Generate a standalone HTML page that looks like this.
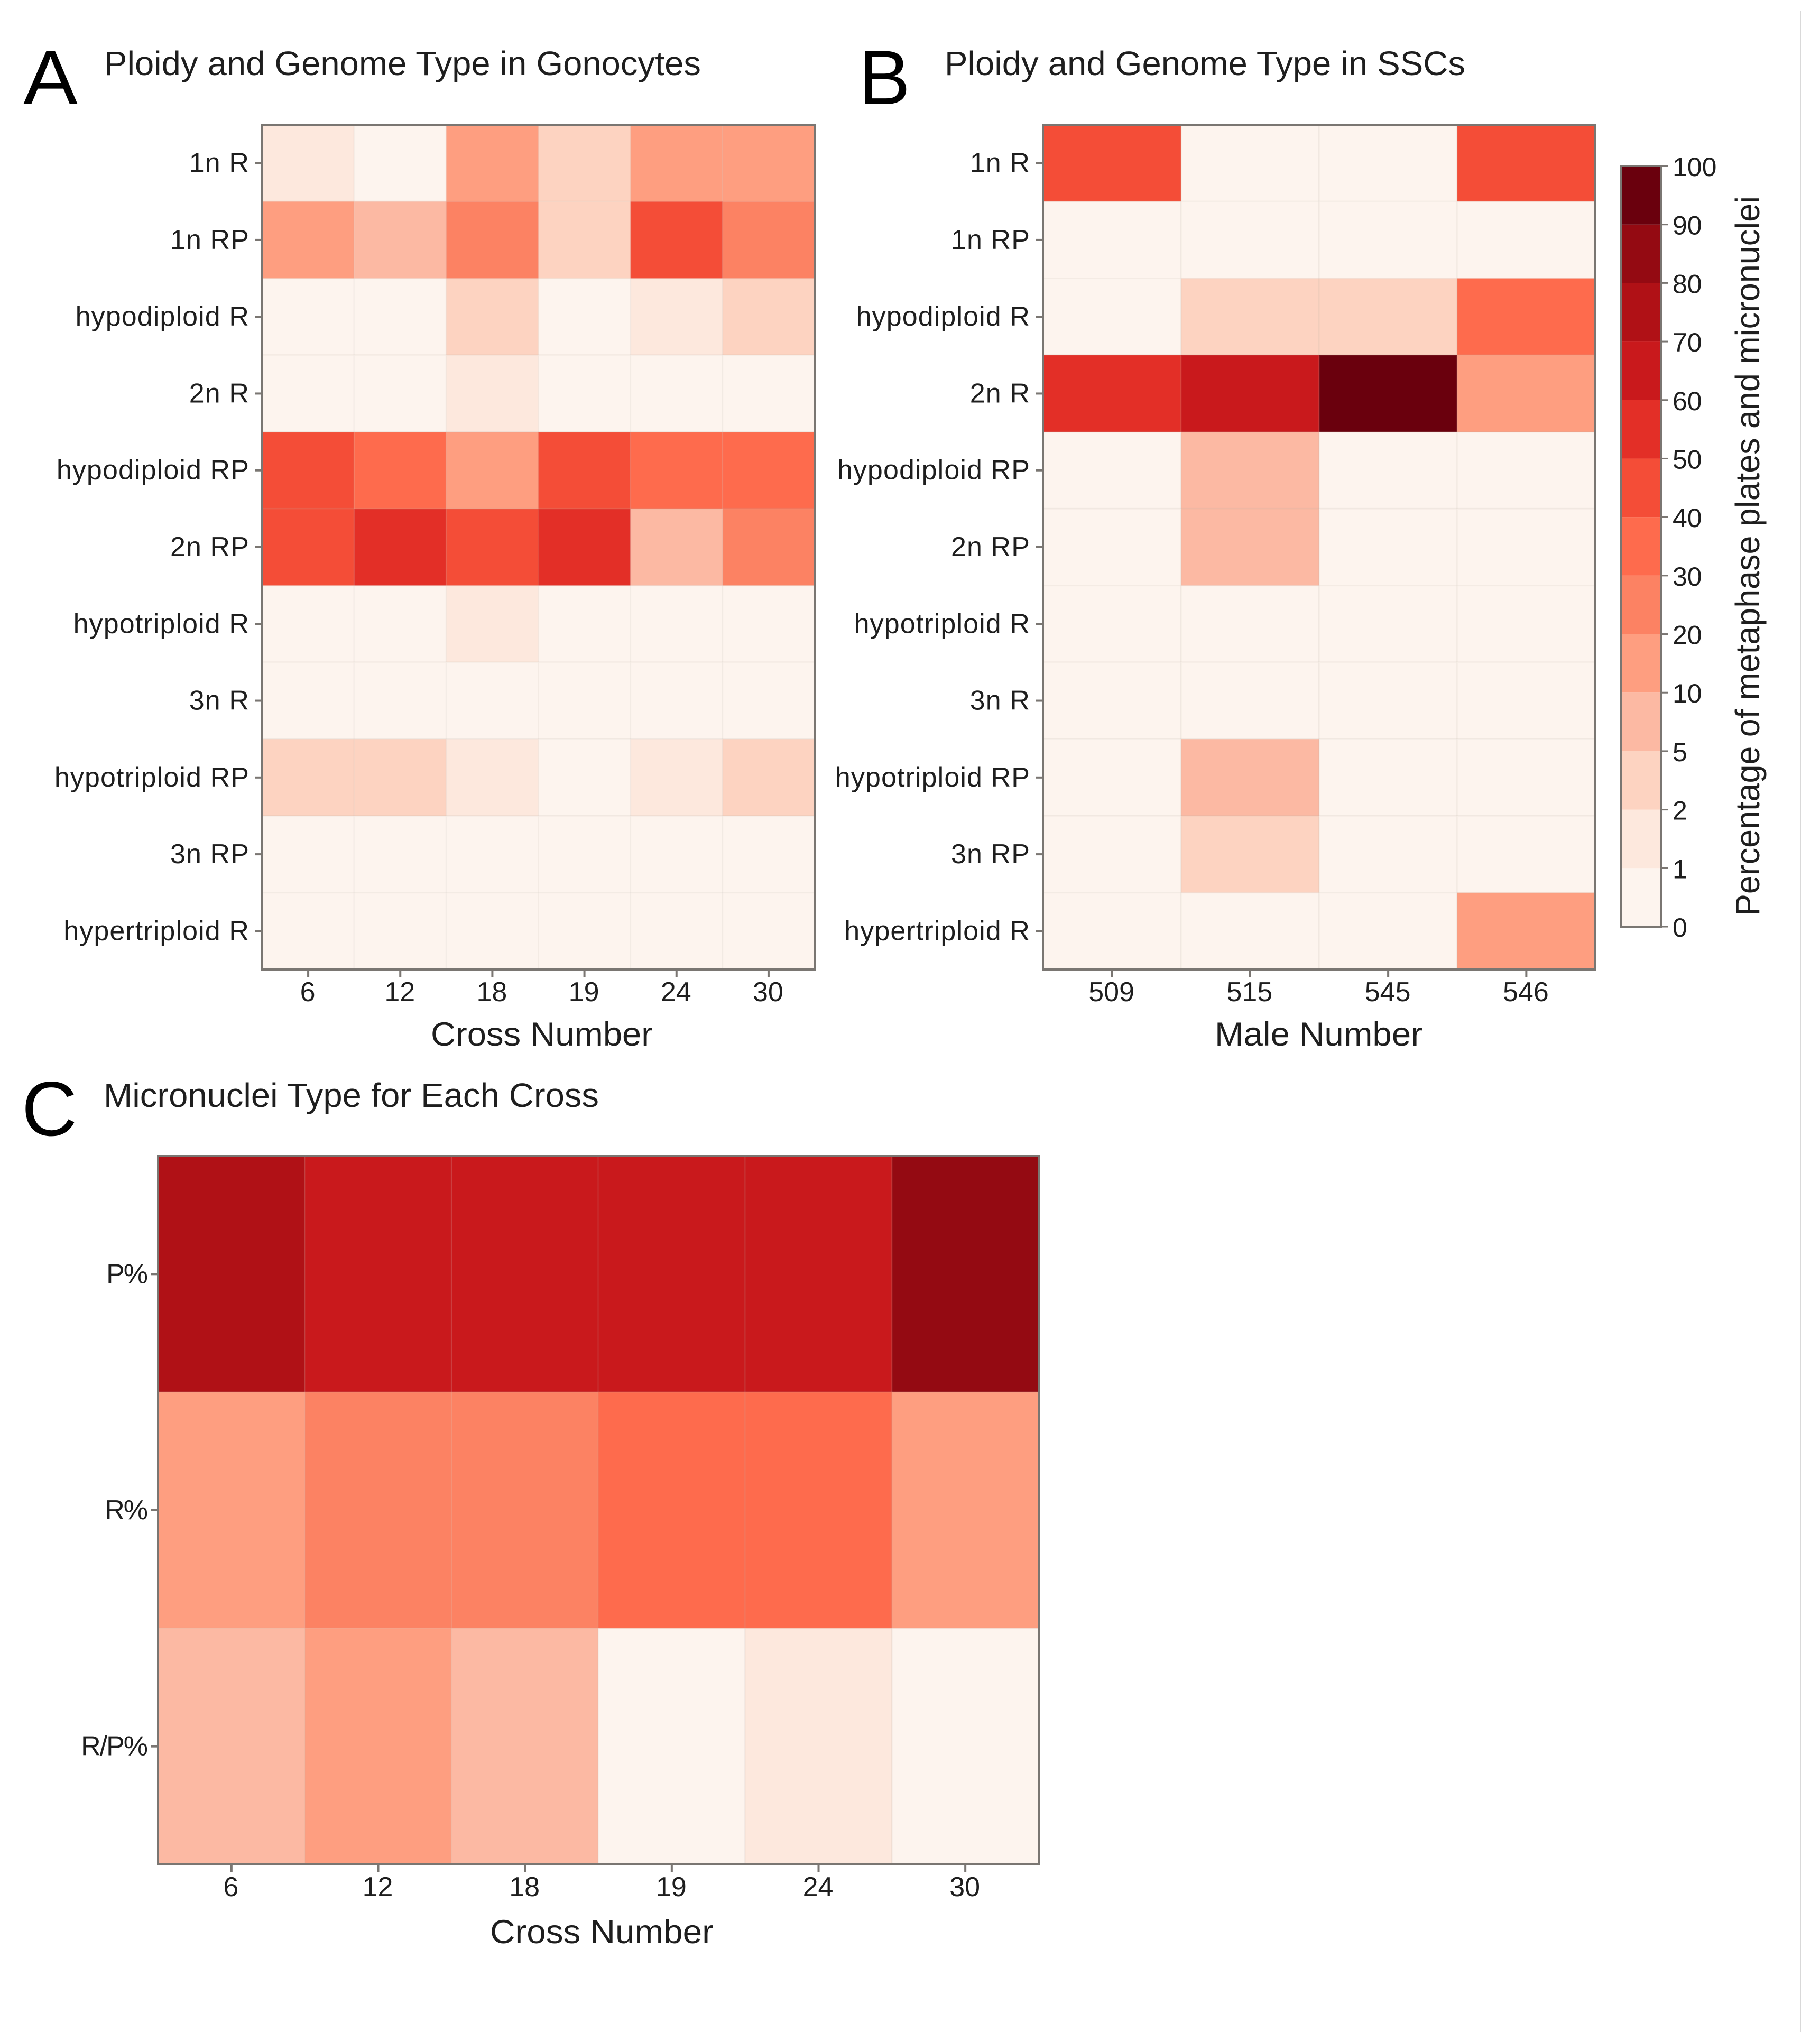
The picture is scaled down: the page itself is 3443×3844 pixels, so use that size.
<!DOCTYPE html>
<html lang="en">
<head>
<meta charset="utf-8">
<title>Ploidy and Genome Type Heatmaps</title>
<style>
html,body{margin:0;padding:0;background:#fff;}
svg{display:block;}
text{font-family:"Liberation Sans",sans-serif;fill:#1e1e1e;}
</style>
</head>
<body>
<svg id="figure" xmlns="http://www.w3.org/2000/svg" width="3443" height="3844" viewBox="0 0 3443 3844">
  <rect x="0" y="0" width="3443" height="3844" fill="#ffffff"/>
  <rect x="3405" y="20" width="3" height="3824" fill="#d9d9d9"/>

  <text x="44" y="197" font-size="146" style="fill:#000" textLength="103" lengthAdjust="spacingAndGlyphs">A</text>
  <text x="197" y="142" font-size="64" textLength="1129" lengthAdjust="spacingAndGlyphs">Ploidy and Genome Type in Gonocytes</text>

  <text x="1624" y="197" font-size="146" style="fill:#000" textLength="98" lengthAdjust="spacingAndGlyphs">B</text>
  <text x="1787" y="142" font-size="64" textLength="985" lengthAdjust="spacingAndGlyphs">Ploidy and Genome Type in SSCs</text>

  <text x="41" y="2148" font-size="146" style="fill:#000" textLength="105" lengthAdjust="spacingAndGlyphs">C</text>
  <text x="196" y="2094" font-size="64" textLength="937" lengthAdjust="spacingAndGlyphs">Micronuclei Type for Each Cross</text>

  <text x="815" y="1978" font-size="63" textLength="420" lengthAdjust="spacingAndGlyphs">Cross Number</text>
  <text x="2298" y="1978" font-size="63" textLength="393" lengthAdjust="spacingAndGlyphs">Male Number</text>
  <text x="927" y="3676" font-size="63" textLength="423" lengthAdjust="spacingAndGlyphs">Cross Number</text>

  <text transform="translate(3328,1733) rotate(-90)" x="0" y="0" font-size="64" textLength="1362" lengthAdjust="spacingAndGlyphs">Percentage of metaphase plates and micronuclei</text>

  <g id="panel-a"></g>
  <g id="panel-b"></g>
  <g id="panel-c"></g>
  <g id="colorbar"></g>
</svg>

<script>
// Colour scale
const bandEdges = [0, 1, 2, 5, 10, 20, 30, 40, 50, 60, 70, 80, 90, 100];
const bandColors = ['#fdf4ee', '#fde8dd', '#fdd3c1', '#fcb9a3', '#fe9e80', '#fc8263', '#fe6b4d', '#f44d37', '#e32f27', '#c9191c', '#b01116', '#940a12', '#6a000d'];

// Panel A
const crossCategories = ['6', '12', '18', '19', '24', '30'];
const ploidyCategoriesA = ['1n R', '1n RP', 'hypodiploid R', '2n R', 'hypodiploid RP', '2n RP', 'hypotriploid R', '3n R', 'hypotriploid RP', '3n RP', 'hypertriploid R'];
const valuesA = [
  [1.5, 0.5, 15, 3, 15, 15],
  [15, 7, 25, 3, 45, 25],
  [0.5, 0.5, 3, 0.3, 1.5, 3],
  [0.5, 0.5, 1.5, 0.5, 0.3, 0.3],
  [45, 35, 15, 45, 35, 35],
  [45, 55, 45, 55, 7, 25],
  [0.5, 0.5, 1.5, 0.5, 0.5, 0.5],
  [0.5, 0.5, 0.5, 0.5, 0.5, 0.5],
  [3, 3, 1.5, 0.5, 1.5, 3],
  [0.5, 0.5, 0.5, 0.5, 0.5, 0.5],
  [0.5, 0.5, 0.5, 0.5, 0.5, 0.5]
];

// Panel B
const maleCategories = ['509', '515', '545', '546'];
const ploidyCategoriesB = ['1n R', '1n RP', 'hypodiploid R', '2n R', 'hypodiploid RP', '2n RP', 'hypotriploid R', '3n R', 'hypotriploid RP', '3n RP', 'hypertriploid R'];
const valuesB = [
  [45, 0.5, 0.5, 45],
  [0.5, 0.5, 0.5, 0.5],
  [0.5, 3, 3, 35],
  [55, 65, 95, 15],
  [0.5, 7, 0.5, 0.5],
  [0.5, 7, 0.5, 0.5],
  [0.5, 0.5, 0.5, 0.5],
  [0.5, 0.5, 0.5, 0.5],
  [0.5, 7, 0.5, 0.5],
  [0.5, 3, 0.5, 0.5],
  [0.5, 0.5, 0.5, 15]
];

// Panel C
const crossCategoriesC = ['6', '12', '18', '19', '24', '30'];
const typeCategories = ['P%', 'R%', 'R/P%'];
const valuesC = [
  [75, 65, 65, 65, 65, 85],
  [15, 25, 25, 35, 35, 15],
  [7, 15, 7, 0.5, 1.5, 0.5]
];

// Colorbar
const colorbarTicks = ['0', '1', '2', '5', '10', '20', '30', '40', '50', '60', '70', '80', '90', '100'];

const SVG_NS = 'http://www.w3.org/2000/svg';
const FRAME_COLOR = '#7a7672';

function colorFor(value) {
  for (let i = bandColors.length - 1; i >= 0; i--) {
    if (value >= bandEdges[i]) return bandColors[i];
  }
  return bandColors[0];
}

function make(parent, tag, attrs) {
  const el = document.createElementNS(SVG_NS, tag);
  Object.keys(attrs).forEach(function (k) { el.setAttribute(k, attrs[k]); });
  parent.appendChild(el);
  return el;
}

function drawHeatmap(id, box, xCats, yCats, values, labelEnd, spacing) {
  const g = document.getElementById(id);
  const xScale = function (i) { return box.left + (box.right - box.left) * i / xCats.length; };
  const yScale = function (j) { return box.top + (box.bottom - box.top) * j / yCats.length; };

  values.forEach(function (row, j) {
    row.forEach(function (v, i) {
      const cell = make(g, 'rect', {
        x: xScale(i), y: yScale(j),
        width: xScale(i + 1) - xScale(i), height: yScale(j + 1) - yScale(j),
        fill: colorFor(v), stroke: 'rgba(190,175,165,0.09)', 'stroke-width': 3
      });
      
      
    });
  });

  const frame = make(g, 'rect', {
    x: box.left, y: box.top,
    width: box.right - box.left, height: box.bottom - box.top,
    fill: 'none', stroke: FRAME_COLOR, 'stroke-width': 4
  });
  
  

  xCats.forEach(function (c, i) {
    const cx = (xScale(i) + xScale(i + 1)) / 2;
    const tick = make(g, 'line', {
      x1: cx, x2: cx, y1: box.bottom, y2: box.bottom + 14,
      stroke: FRAME_COLOR, 'stroke-width': 4
    });
    
    
    const label = make(g, 'text', {
      x: cx - 1, y: box.bottom + 60, 'font-size': 52, 'text-anchor': 'middle'
    });
    
    
    label.textContent = c;
  });

  yCats.forEach(function (c, j) {
    const cy = (yScale(j) + yScale(j + 1)) / 2;
    const tick = make(g, 'line', {
      x1: box.left - 14, x2: box.left, y1: cy, y2: cy,
      stroke: FRAME_COLOR, 'stroke-width': 4
    });
    
    
    const label = make(g, 'text', {
      x: labelEnd, y: cy + 17, 'font-size': 52, 'text-anchor': 'end',
      'letter-spacing': spacing
    });
    
    
    label.textContent = c;
  });
}

function drawColorbar() {
  const g = document.getElementById('colorbar');
  const left = 3066, right = 3142, top = 314, bottom = 1753;
  const n = bandColors.length;
  const yScale = function (i) { return bottom - (bottom - top) * i / n; };

  bandColors.forEach(function (color, i) {
    const band = make(g, 'rect', {
      x: left, y: yScale(i + 1), width: right - left, height: yScale(i) - yScale(i + 1), fill: color
    });
    
    
  });

  const frame = make(g, 'rect', {
    x: left, y: top, width: right - left, height: bottom - top,
    fill: 'none', stroke: FRAME_COLOR, 'stroke-width': 4
  });
  
  

  colorbarTicks.forEach(function (t, i) {
    const y = yScale(i);
    const tick = make(g, 'line', {
      x1: right, x2: right + 13, y1: y, y2: y, stroke: FRAME_COLOR, 'stroke-width': 3
    });
    
    
    const label = make(g, 'text', { x: 3164, y: y + 19, 'font-size': 50 });
    
    
    label.textContent = t;
  });
}

drawHeatmap('panel-a', { left: 496, right: 1541, top: 236, bottom: 1834 }, crossCategories, ploidyCategoriesA, valuesA, 472, 1.1);
drawHeatmap('panel-b', { left: 1973, right: 3018, top: 236, bottom: 1834 }, maleCategories, ploidyCategoriesB, valuesB, 1949, 1.1);
drawHeatmap('panel-c', { left: 299, right: 1965, top: 2187, bottom: 3527 }, crossCategoriesC, typeCategories, valuesC, 278, -2);
drawColorbar();
</script>
</body>
</html>
